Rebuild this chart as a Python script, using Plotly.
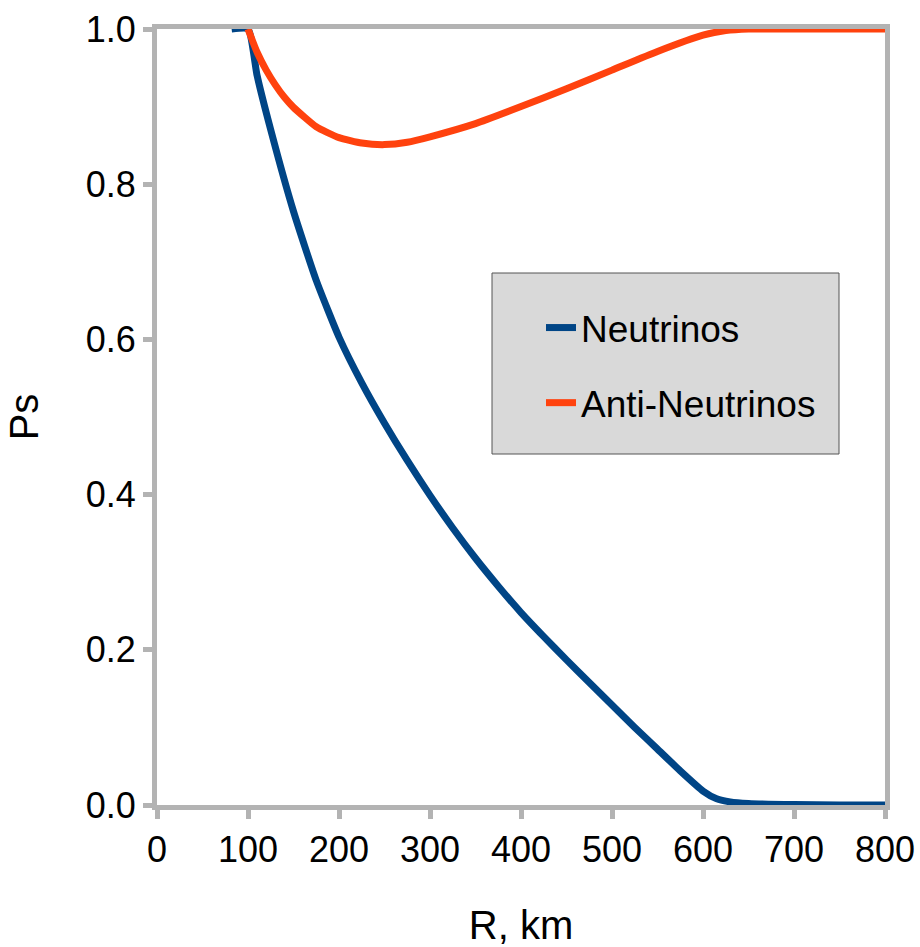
import plotly.graph_objects as go

# Data
r_nu = [82, 100, 110, 125, 150, 175, 200, 225, 250, 275, 300, 325, 350, 375, 400, 425, 450, 475, 500,
        525, 550, 575, 600, 615, 630, 650, 700, 750, 800]
ps_nu = [1.0, 1.0, 0.94, 0.87, 0.765, 0.676, 0.603, 0.544, 0.492, 0.444, 0.399, 0.357, 0.318, 0.282, 0.248,
         0.217, 0.187, 0.158, 0.129, 0.100, 0.072, 0.044, 0.018, 0.008, 0.004, 0.002, 0.0005, 0.0, 0.0]

r_anti = [100, 110, 120, 130, 140, 150, 175, 200, 225, 250, 275, 300, 350, 400, 450, 500, 550, 600, 625, 650, 700, 800]
ps_anti = [1.0, 0.970, 0.947, 0.928, 0.912, 0.899, 0.874, 0.86, 0.853, 0.851, 0.854, 0.861, 0.878, 0.9, 0.923,
           0.947, 0.971, 0.992, 0.998, 1.0, 1.0, 1.0]

x_ticks = [0, 100, 200, 300, 400, 500, 600, 700, 800]
y_ticks = [0.0, 0.2, 0.4, 0.6, 0.8, 1.0]
y_tick_text = ["0.0", "0.2", "0.4", "0.6", "0.8", "1.0"]

FONT = "Liberation Sans, Arial, sans-serif"
GRAY = "#b3b3b3"

fig = go.Figure()
fig.add_trace(go.Scatter(x=r_nu, y=ps_nu, mode="lines", name="Neutrinos",
                         legendgroup="a",
                         line=dict(color="#004586", width=7, shape="spline", smoothing=0.5)))
fig.add_trace(go.Scatter(x=r_anti, y=ps_anti, mode="lines", name="Anti-Neutrinos",
                         legendgroup="b",
                         line=dict(color="#ff420e", width=7, shape="spline", smoothing=0.5)))

axis_common = dict(showgrid=False, zeroline=False, showline=True, linecolor=GRAY, linewidth=5,
                   mirror=True, ticks="outside", ticklen=9, tickwidth=5, tickcolor=GRAY,
                   automargin=False,
                   tickfont=dict(family=FONT, size=36, color="black"))

fig.update_xaxes(range=[0, 800], tickvals=x_ticks,
                 title=dict(text="R, km", font=dict(family=FONT, size=40, color="black"), standoff=44),
                 **axis_common)
fig.update_yaxes(range=[0, 1], tickvals=y_ticks, ticktext=y_tick_text,
                 title=dict(text="Ps", font=dict(family=FONT, size=40, color="black"), standoff=36),
                 **axis_common)

# Legend box
fig.add_shape(type="rect", xref="paper", yref="paper",
              x0=(492 - 157) / 728, x1=(839 - 157) / 728,
              y0=(805 - 454) / 776, y1=(805 - 273) / 776,
              fillcolor="#d9d9d9", line=dict(color="#555555", width=1), layer="below")

fig.update_layout(
    width=920, height=947,
    margin=dict(l=157, r=35, t=29, b=142, autoexpand=False),
    paper_bgcolor="white", plot_bgcolor="white",
    font=dict(family=FONT, size=36, color="black"),
    showlegend=True,
    legend=dict(x=(541 - 157) / 728, y=(805 - 297) / 776, xanchor="left", yanchor="top",
                bgcolor="rgba(0,0,0,0)", borderwidth=0, tracegroupgap=24,
                traceorder="grouped", font=dict(family=FONT, size=37, color="black")),
)

fig.write_html("out.html")
